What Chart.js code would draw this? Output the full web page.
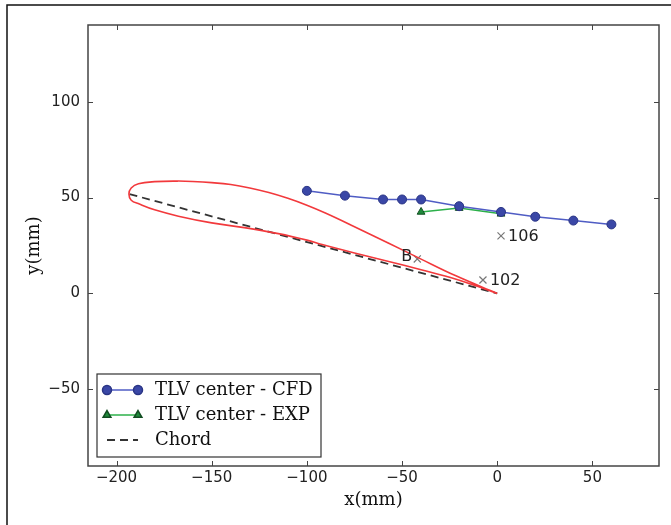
<!DOCTYPE html>
<html>
<head>
<meta charset="utf-8">
<script src="https://cdn.jsdelivr.net/npm/chart.js@4.4.0/dist/chart.umd.min.js"></script>
<style>
    body { margin: 0; background: #fff; }
    #wrap { width: 671px; height: 525px; }
</style>
</head>
<body>
<div id="wrap"><canvas id="chartTlv"></canvas></div>
<script>
// airfoil outline (mm), upper and lower side from leading edge to trailing edge
const upperX = [-193.5, -192.3, -188.5, -180, -168, -160, -150, -140, -130, -120, -110, -100, -90, -75, -57, -40, -22, 0];
const upperY = [51.8, 55, 57.2, 58.3, 58.6, 58.4, 57.8, 56.8, 55, 52.6, 49.6, 46, 41.8, 34.8, 26.2, 17.9, 9.3, 0];
const lowerX = [-193.5, -192.3, -188, -180, -167.5, -150, -132, -115, -100, -92, -75, -57, -40, -22, -5, 0];
const lowerY = [51.8, 48.6, 46.6, 43.6, 40.3, 36.8, 34.2, 31.2, 27.8, 25.5, 21.1, 16.7, 12.3, 7.5, 1.8, 0];

// chord line
const chordX = [-193.2, 0];
const chordY = [51.8, 0];

// TLV center positions
const cfdX = [-100, -80, -60, -50, -40, -20, 2, 20, 40, 60];
const cfdY = [53.5, 51, 49, 49, 49, 45.5, 42.5, 40, 38, 36];
const expX = [-40, -20, 2];
const expY = [42.5, 44.5, 41.5];

// probe positions
const markX = [-42, 2, -7.5];
const markY = [18, 30, 7];
const markText = ['B', '106', '102'];
const markSide = ['left', 'right', 'right'];

const xTicks = [-200, -150, -100, -50, 0, 50];
const yTicks = [-50, 0, 50, 100];

function toPoints(xs, ys) {
    return xs.map((x, i) => ({ x: x, y: ys[i] }));
}

// trailing edge -> lower side -> nose -> upper side -> trailing edge
function airfoilLoop() {
    const lower = toPoints(lowerX, lowerY).reverse();
    const upper = toPoints(upperX, upperY).slice(1);
    return lower.concat(upper);
}

function minusLabel(v) {
    return String(v).replace('-', '\u2212');
}

const framePlugin = {
    id: 'frame',
    afterDatasetsDraw(chart) {
        const ctx = chart.ctx;
        const xs = chart.scales.x;
        const ys = chart.scales.y;
        ctx.save();
        ctx.fillStyle = '#222';
        ctx.font = '16px "DejaVu Sans"';
        ctx.textBaseline = 'middle';
        for (let i = 0; i < markX.length; i++) {
            const px = xs.getPixelForValue(markX[i]);
            const py = ys.getPixelForValue(markY[i]);
            if (markSide[i] === 'left') {
                ctx.textAlign = 'right';
                ctx.fillText(markText[i], px - 5, py - 2);
            } else {
                ctx.textAlign = 'left';
                ctx.fillText(markText[i], px + 7, py + 1);
            }
        }
        ctx.restore();
    },
    afterDraw(chart) {
        const ctx = chart.ctx;
        const a = chart.chartArea;
        const xs = chart.scales.x;
        const ys = chart.scales.y;
        ctx.save();

        // figure border
        ctx.strokeStyle = '#111';
        ctx.lineWidth = 1.5;
        ctx.beginPath();
        ctx.moveTo(7, 530);
        ctx.lineTo(7, 5);
        ctx.lineTo(680, 5);
        ctx.stroke();

        // axes frame
        ctx.strokeStyle = '#444';
        ctx.lineWidth = 1.5;
        ctx.strokeRect(a.left, a.top, a.right - a.left, a.bottom - a.top);

        // inward ticks on all sides
        ctx.lineWidth = 1;
        ctx.beginPath();
        xTicks.forEach(v => {
            const px = Math.round(xs.getPixelForValue(v)) + 0.5;
            ctx.moveTo(px, a.bottom); ctx.lineTo(px, a.bottom - 5);
            ctx.moveTo(px, a.top); ctx.lineTo(px, a.top + 5);
        });
        yTicks.forEach(v => {
            const py = Math.round(ys.getPixelForValue(v)) + 0.5;
            ctx.moveTo(a.left, py); ctx.lineTo(a.left + 5, py);
            ctx.moveTo(a.right, py); ctx.lineTo(a.right - 5, py);
        });
        ctx.stroke();

        // legend box
        const items = chart.data.datasets.filter(d => d.inLegend);
        const bx = 97, by = 374, bw = 224, bh = 83;
        ctx.fillStyle = '#fff';
        ctx.fillRect(bx, by, bw, bh);
        ctx.strokeStyle = '#333';
        ctx.lineWidth = 1.2;
        ctx.strokeRect(bx, by, bw, bh);
        items.forEach((d, i) => {
            const ry = by + 16 + i * 25;
            ctx.strokeStyle = d.borderColor;
            ctx.lineWidth = d.borderWidth;
            ctx.setLineDash(d.borderDash || []);
            ctx.beginPath();
            ctx.moveTo(107, ry);
            ctx.lineTo(138, ry);
            ctx.stroke();
            ctx.setLineDash([]);
            if (d.pointRadius > 0) {
                ctx.fillStyle = d.pointBackgroundColor;
                ctx.strokeStyle = d.pointBorderColor;
                [107, 138].forEach(px => {
                    Chart.helpers.drawPoint(ctx, {
                        pointStyle: d.pointStyle, rotation: 0,
                        radius: d.pointRadius, borderWidth: d.pointBorderWidth
                    }, px, ry);
                });
            }
            ctx.fillStyle = '#111';
            ctx.font = '18px "DejaVu Serif"';
            ctx.textAlign = 'left';
            ctx.textBaseline = 'middle';
            ctx.fillText(d.label, 155, ry);
        });
        ctx.restore();
    }
};

Chart.defaults.font.family = '"DejaVu Sans"';
Chart.defaults.color = '#222';

let tlvChart = new Chart(document.getElementById('chartTlv'), {
    type: 'scatter',
    data: {
        datasets: [
            {
                label: 'Airfoil',
                data: airfoilLoop(),
                showLine: true,
                borderColor: '#f2393c',
                borderWidth: 1.6,
                pointRadius: 0,
                tension: 0.4
            },
            {
                label: 'TLV center - CFD',
                inLegend: true,
                data: toPoints(cfdX, cfdY),
                showLine: true,
                borderColor: '#4f5cc4',
                borderWidth: 1.5,
                pointStyle: 'circle',
                pointRadius: 4.5,
                pointBackgroundColor: '#3a47a6',
                pointBorderColor: '#2a3585',
                pointBorderWidth: 1
            },
            {
                label: 'TLV center - EXP',
                inLegend: true,
                data: toPoints(expX, expY),
                showLine: true,
                borderColor: '#2cb04a',
                borderWidth: 1.5,
                pointStyle: 'triangle',
                pointRadius: 4.5,
                pointBackgroundColor: '#1f8a3a',
                pointBorderColor: '#124d22',
                pointBorderWidth: 1
            },
            {
                label: 'Chord',
                inLegend: true,
                data: toPoints(chordX, chordY),
                showLine: true,
                borderColor: '#333',
                borderWidth: 1.8,
                borderDash: [8, 5],
                pointRadius: 0
            },
            {
                label: 'Probes',
                data: toPoints(markX, markY),
                showLine: false,
                pointStyle: 'crossRot',
                pointRadius: 5,
                borderColor: '#777',
                pointBorderColor: '#777',
                pointBorderWidth: 1.2
            }
        ]
    },
    options: {
        responsive: true,
        maintainAspectRatio: false,
        animation: false,
        layout: { padding: { left: 0, top: 25, right: 12, bottom: 0 } },
        plugins: {
            legend: { display: false },
            tooltip: { enabled: false }
        },
        scales: {
            x: {
                type: 'linear',
                min: -215,
                max: 85,
                afterBuildTicks: s => { s.ticks = xTicks.map(v => ({ value: v })); },
                afterFit: s => { s.height = 59; },
                grid: { display: false, drawTicks: false },
                border: { display: false },
                ticks: {
                    padding: 3,
                    font: { size: 15 },
                    color: '#222',
                    callback: v => minusLabel(v)
                },
                title: {
                    display: true,
                    text: 'x(mm)',
                    font: { family: '"DejaVu Serif"', size: 18 },
                    color: '#111',
                    padding: { top: 0, bottom: 14 }
                }
            },
            y: {
                type: 'linear',
                min: -90,
                max: 140,
                afterBuildTicks: s => { s.ticks = yTicks.map(v => ({ value: v })); },
                afterFit: s => { s.width = 88; },
                grid: { display: false, drawTicks: false },
                border: { display: false },
                ticks: {
                    padding: 8,
                    font: { size: 15 },
                    color: '#222',
                    callback: v => minusLabel(v)
                },
                title: {
                    display: true,
                    text: 'y(mm)',
                    font: { family: '"DejaVu Serif"', size: 18 },
                    color: '#111',
                    padding: { top: 24, bottom: 0 }
                }
            }
        }
    },
    plugins: [framePlugin]
});
</script>
</body>
</html>
